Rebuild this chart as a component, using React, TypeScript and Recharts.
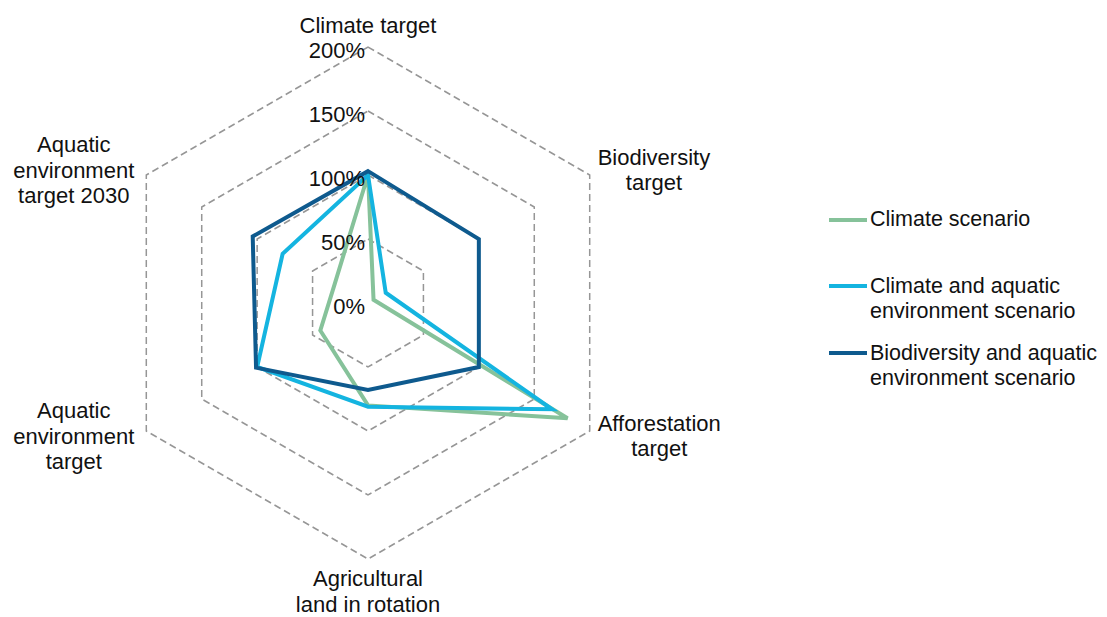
import React from 'react';
import { RadarChart, Radar, PolarGrid, PolarAngleAxis, PolarRadiusAxis } from 'recharts';

// ---------- data ----------
const categories = [
  'Climate target',
  'Biodiversity target',
  'Afforestation target',
  'Agricultural land in rotation',
  'Aquatic environment target',
  'Aquatic environment target 2030',
];
const categoryLines = [
  ['Climate target'],
  ['Biodiversity', 'target'],
  ['Afforestation', 'target'],
  ['Agricultural', 'land in rotation'],
  ['Aquatic', 'environment', 'target'],
  ['Aquatic', 'environment', 'target 2030'],
];
const climateScenario = [100, 5, 180, 80, 43, 30];
const climateAquaticScenario = [100, 16, 166, 81, 100, 77];
const biodiversityAquaticScenario = [103, 100, 100, 68, 101, 104];
const radiusTicks = [0, 50, 100, 150, 200];
const seriesNames = [
  'Climate scenario',
  'Climate and aquatic environment scenario',
  'Biodiversity and aquatic environment scenario',
];
const legendLines = [
  ['Climate scenario'],
  ['Climate and aquatic', 'environment scenario'],
  ['Biodiversity and aquatic', 'environment scenario'],
];
const seriesColors = ['#86C29A', '#14B4E0', '#0E5A8E'];

const data = categories.map((c, i) => ({
  category: c,
  s0: climateScenario[i],
  s1: climateAquaticScenario[i],
  s2: biodiversityAquaticScenario[i],
}));

// ---------- layout ----------
const W = 1091;
const H = 609;
const CX = 360;
const CY = 295;
const R = 256;
const FONT = '"Liberation Sans", Arial, sans-serif';
const FS = 22;
const LEGEND_FS = 21.5;
const LH = 25.5;
const TEXT = '#111111';

let ctx: CanvasRenderingContext2D | null = null;
function measure(s: string): number {
  try {
    if (!ctx) ctx = document.createElement('canvas').getContext('2d');
    if (ctx) {
      ctx.font = `${FS}px "Liberation Sans", Arial, sans-serif`;
      return ctx.measureText(s).width;
    }
  } catch (e) {}
  return s.length * FS * 0.5;
}

const AngleTick = (props: any) => {
  const { payload } = props;
  const idx = categories.indexOf(payload.value);
  const lines = idx >= 0 ? categoryLines[idx] : [String(payload.value)];
  const rad = (payload.coordinate * Math.PI) / 180;
  const cos = Math.cos(rad);
  const sin = Math.sin(rad);
  const vx = CX + R * cos;
  const vy = CY - R * sin;
  const w = Math.max(...lines.map(measure));
  const n = lines.length;
  let bx: number;
  let by: number;
  if (Math.abs(cos) > 0.1) {
    const gap = cos > 0 ? 8 : 12;
    bx = vx + Math.sign(cos) * (gap + w / 2);
    by = vy - sin * 10;
  } else {
    bx = vx;
    by = vy - Math.sign(sin) * ((sin > 0 ? 9 : 7) + (n * LH) / 2);
  }
  return (
    <g>
      {lines.map((l, i) => (
        <text
          key={i}
          x={bx}
          y={by + (i - (n - 1) / 2) * LH}
          textAnchor="middle"
          dominantBaseline="central"
          fontFamily={FONT}
          fontSize={FS}
          fill={TEXT}
        >
          {l}
        </text>
      ))}
    </g>
  );
};

const RadiusTick = (props: any) => {
  const { x, y, payload } = props;
  return (
    <text
      x={x - 3}
      y={y + 3}
      textAnchor="end"
      dominantBaseline="central"
      fontFamily={FONT}
      fontSize={FS}
      fill={TEXT}
    >
      {`${payload.value}%`}
    </text>
  );
};

const legendMargins = [0, 41, 16];

export default function App() {
  return (
    <div style={{ position: 'relative', width: W, height: H }}>
      <style>{'html,body{overflow:hidden}'}</style>
      <RadarChart
        width={W}
        height={H}
        data={data}
        cx={CX}
        cy={CY}
        outerRadius={R}
        startAngle={90}
        endAngle={-270}
        margin={{ top: 0, right: 0, bottom: 0, left: 0 }}
      >
        <PolarGrid
          gridType="polygon"
          radialLines={false}
          stroke="#969696"
          strokeWidth={1.5}
          strokeDasharray="7 4"
        />
        <PolarAngleAxis
          dataKey="category"
          tick={AngleTick}
          tickLine={false}
          axisLine={false}
        />
        <PolarRadiusAxis
          angle={90}
          domain={[0, 200]}
          ticks={radiusTicks as any}
          tickCount={5}
          axisLine={false}
          tickLine={false}
          tick={RadiusTick}
        />
        {seriesNames.map((name, i) => (
          <Radar
            key={name}
            name={name}
            dataKey={`s${i}`}
            stroke={seriesColors[i]}
            strokeWidth={4}
            fill="none"
            fillOpacity={0}
            dot={false}
            isAnimationActive={false}
          />
        ))}
      </RadarChart>
      <div
        style={{
          position: 'absolute',
          left: 821,
          top: 199,
          fontFamily: FONT,
          fontSize: LEGEND_FS,
          color: TEXT,
          lineHeight: `${LH}px`,
        }}
      >
        {seriesNames.map((name, i) => (
          <div key={name} style={{ display: 'flex', alignItems: 'flex-start', marginTop: legendMargins[i] }}>
            <div
              style={{
                width: 38,
                height: 4,
                background: seriesColors[i],
                marginTop: LH / 2 - 2,
                marginRight: 3,
                flexShrink: 0,
              }}
            />
            <div>
              {legendLines[i].map((l, j) => (
                <div key={j} style={{ whiteSpace: 'nowrap' }}>
                  {l}
                </div>
              ))}
            </div>
          </div>
        ))}
      </div>
    </div>
  );
}
